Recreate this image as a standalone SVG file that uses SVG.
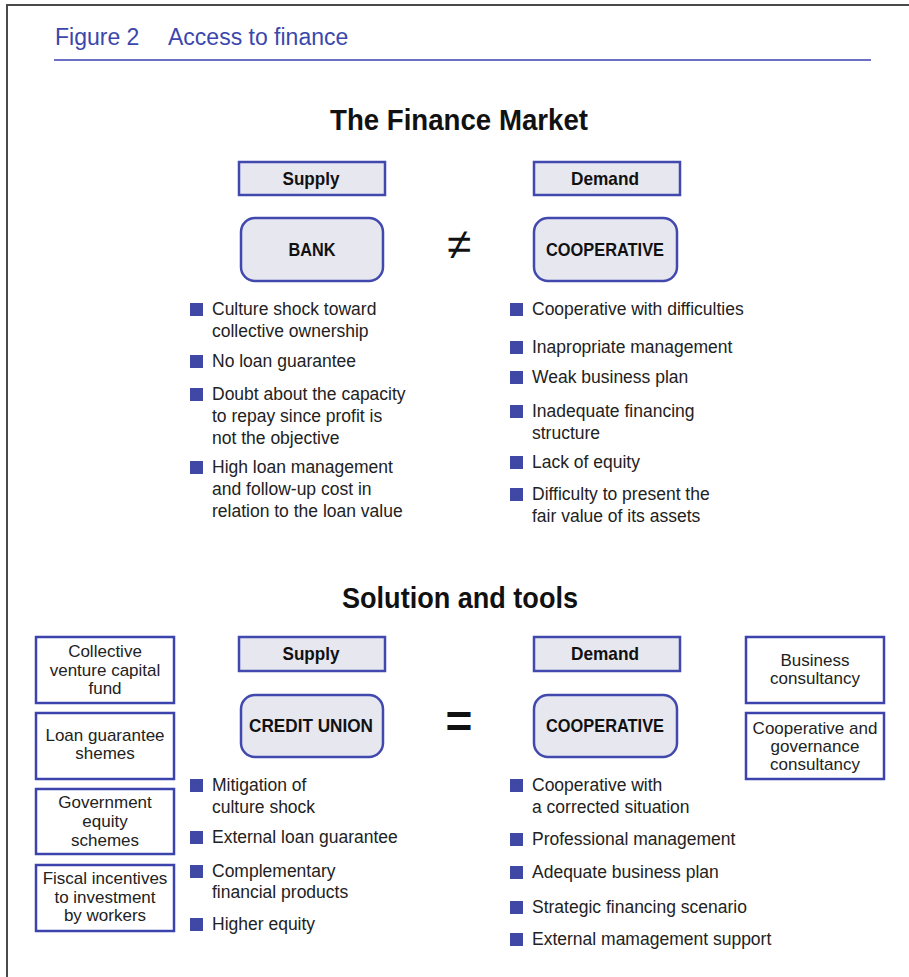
<svg xmlns="http://www.w3.org/2000/svg" width="909" height="977" viewBox="0 0 909 977">
<style>
.frame{stroke:#4a4a4a;stroke-width:2;fill:none}
.hdr{font-family:"Liberation Sans",Arial,sans-serif;font-size:23px;fill:#3b47ad}
.ttl{font-family:"Liberation Sans",Arial,sans-serif;font-size:30px;font-weight:bold;fill:#111;text-anchor:middle}
.lbl{font-family:"Liberation Sans",Arial,sans-serif;font-size:19px;font-weight:bold;fill:#111;text-anchor:middle}
.body{font-family:"Liberation Sans",Arial,sans-serif;font-size:17.5px;fill:#222}
.ctr{text-anchor:middle;font-size:17px}
.tag{fill:#e7e7f0;stroke:#4148ae;stroke-width:2.5}
.tool{fill:#fff;stroke:#3c43ad;stroke-width:2.5}
.sq{fill:#4048a6}
.sym{font-family:"Liberation Sans",Arial,sans-serif;fill:#111;text-anchor:middle}
</style>
<rect width="909" height="977" fill="#fff"/>
<path class="frame" d="M909 5 H7 V977"/>
<g id="header">
<text class="hdr" x="55" y="45">Figure 2</text>
<text class="hdr" x="168" y="45">Access to finance</text>
<line x1="54" y1="60" x2="871" y2="60" stroke="#3a40b0" stroke-width="1.6"/>
</g>
<text class="ttl" x="459" y="130" textLength="258" lengthAdjust="spacingAndGlyphs">The Finance Market</text>
<text class="ttl" x="460" y="608" textLength="236" lengthAdjust="spacingAndGlyphs">Solution and tools</text>

<g id="supply-top">
<rect class="tag" x="239" y="162" width="146" height="33"/>
<text class="lbl" x="311" y="185" textLength="57" lengthAdjust="spacingAndGlyphs">Supply</text>
</g>
<g id="demand-top">
<rect class="tag" x="534" y="162" width="146" height="33"/>
<text class="lbl" x="605" y="185" textLength="68" lengthAdjust="spacingAndGlyphs">Demand</text>
</g>
<g id="bank">
<rect class="tag" x="241" y="218" width="142" height="63" rx="14"/>
<text class="lbl" x="312" y="256" textLength="47" lengthAdjust="spacingAndGlyphs">BANK</text>
</g>
<g id="cooperative-top">
<rect class="tag" x="534" y="218" width="143" height="63" rx="14"/>
<text class="lbl" x="605" y="256" textLength="118" lengthAdjust="spacingAndGlyphs">COOPERATIVE</text>
</g>

<g id="bank-issues">
<rect class="sq" x="190" y="303" width="13" height="13"/>
<text class="body" x="212" y="315">Culture shock toward</text>
<text class="body" x="212" y="337">collective ownership</text>
<rect class="sq" x="190" y="355" width="13" height="13"/>
<text class="body" x="212" y="367">No loan guarantee</text>
<rect class="sq" x="190" y="388" width="13" height="13"/>
<text class="body" x="212" y="400">Doubt about the capacity</text>
<text class="body" x="212" y="422">to repay since profit is</text>
<text class="body" x="212" y="444">not the objective</text>
<rect class="sq" x="190" y="461" width="13" height="13"/>
<text class="body" x="212" y="473">High loan management</text>
<text class="body" x="212" y="495">and follow-up cost in</text>
<text class="body" x="212" y="517">relation to the loan value</text>
</g>

<g id="coop-issues">
<rect class="sq" x="510" y="303" width="13" height="13"/>
<text class="body" x="532" y="315">Cooperative with difficulties</text>
<rect class="sq" x="510" y="341" width="13" height="13"/>
<text class="body" x="532" y="353">Inapropriate management</text>
<rect class="sq" x="510" y="371" width="13" height="13"/>
<text class="body" x="532" y="383">Weak business plan</text>
<rect class="sq" x="510" y="405" width="13" height="13"/>
<text class="body" x="532" y="417">Inadequate financing</text>
<text class="body" x="532" y="439">structure</text>
<rect class="sq" x="510" y="456" width="13" height="13"/>
<text class="body" x="532" y="468">Lack of equity</text>
<rect class="sq" x="510" y="488" width="13" height="13"/>
<text class="body" x="532" y="500">Difficulty to present the</text>
<text class="body" x="532" y="522">fair value of its assets</text>
</g>

<g id="supply-bottom">
<rect class="tag" x="239" y="637" width="146" height="34"/>
<text class="lbl" x="311" y="660" textLength="57" lengthAdjust="spacingAndGlyphs">Supply</text>
</g>
<g id="demand-bottom">
<rect class="tag" x="534" y="637" width="146" height="34"/>
<text class="lbl" x="605" y="660" textLength="68" lengthAdjust="spacingAndGlyphs">Demand</text>
</g>
<g id="credit-union">
<rect class="tag" x="241" y="695" width="142" height="62" rx="14"/>
<text class="lbl" x="311" y="732" textLength="124" lengthAdjust="spacingAndGlyphs">CREDIT UNION</text>
</g>
<g id="cooperative-bottom">
<rect class="tag" x="534" y="695" width="143" height="62" rx="14"/>
<text class="lbl" x="605" y="732" textLength="118" lengthAdjust="spacingAndGlyphs">COOPERATIVE</text>
</g>

<g id="tool-venture">
<rect class="tool" x="36" y="637" width="138" height="66"/>
<text class="body ctr" x="105" y="657">Collective</text>
<text class="body ctr" x="105" y="676">venture capital</text>
<text class="body ctr" x="105" y="694">fund</text>
</g>
<g id="tool-loan">
<rect class="tool" x="36" y="713" width="138" height="66"/>
<text class="body ctr" x="105" y="741">Loan guarantee</text>
<text class="body ctr" x="105" y="759">shemes</text>
</g>
<g id="tool-government">
<rect class="tool" x="36" y="789" width="138" height="65"/>
<text class="body ctr" x="105" y="808">Government</text>
<text class="body ctr" x="105" y="827">equity</text>
<text class="body ctr" x="105" y="846">schemes</text>
</g>
<g id="tool-fiscal">
<rect class="tool" x="36" y="865" width="138" height="66"/>
<text class="body ctr" x="105" y="884">Fiscal incentives</text>
<text class="body ctr" x="105" y="903">to investment</text>
<text class="body ctr" x="105" y="921">by workers</text>
</g>
<g id="tool-business">
<rect class="tool" x="746" y="637" width="138" height="66"/>
<text class="body ctr" x="815" y="666">Business</text>
<text class="body ctr" x="815" y="684">consultancy</text>
</g>
<g id="tool-governance">
<rect class="tool" x="746" y="713" width="138" height="66"/>
<text class="body ctr" x="815" y="734">Cooperative and</text>
<text class="body ctr" x="815" y="752">governance</text>
<text class="body ctr" x="815" y="770">consultancy</text>
</g>

<g id="credit-union-solutions">
<rect class="sq" x="190" y="779" width="13" height="13"/>
<text class="body" x="212" y="791">Mitigation of</text>
<text class="body" x="212" y="813">culture shock</text>
<rect class="sq" x="190" y="831" width="13" height="13"/>
<text class="body" x="212" y="843">External loan guarantee</text>
<rect class="sq" x="190" y="865" width="13" height="13"/>
<text class="body" x="212" y="877">Complementary</text>
<text class="body" x="212" y="898">financial products</text>
<rect class="sq" x="190" y="918" width="13" height="13"/>
<text class="body" x="212" y="930">Higher equity</text>
</g>

<g id="coop-solutions">
<rect class="sq" x="510" y="779" width="13" height="13"/>
<text class="body" x="532" y="791">Cooperative with</text>
<text class="body" x="532" y="813">a corrected situation</text>
<rect class="sq" x="510" y="833" width="13" height="13"/>
<text class="body" x="532" y="845">Professional management</text>
<rect class="sq" x="510" y="866" width="13" height="13"/>
<text class="body" x="532" y="878">Adequate business plan</text>
<rect class="sq" x="510" y="901" width="13" height="13"/>
<text class="body" x="532" y="913">Strategic financing scenario</text>
<rect class="sq" x="510" y="933" width="13" height="13"/>
<text class="body" x="532" y="945">External mamagement support</text>
</g>

<g id="connectors">
<text class="sym" x="459" y="259" font-size="44">≠</text>
<text class="sym" x="459" y="737" font-size="46" font-weight="bold">=</text>
</g>
</svg>
